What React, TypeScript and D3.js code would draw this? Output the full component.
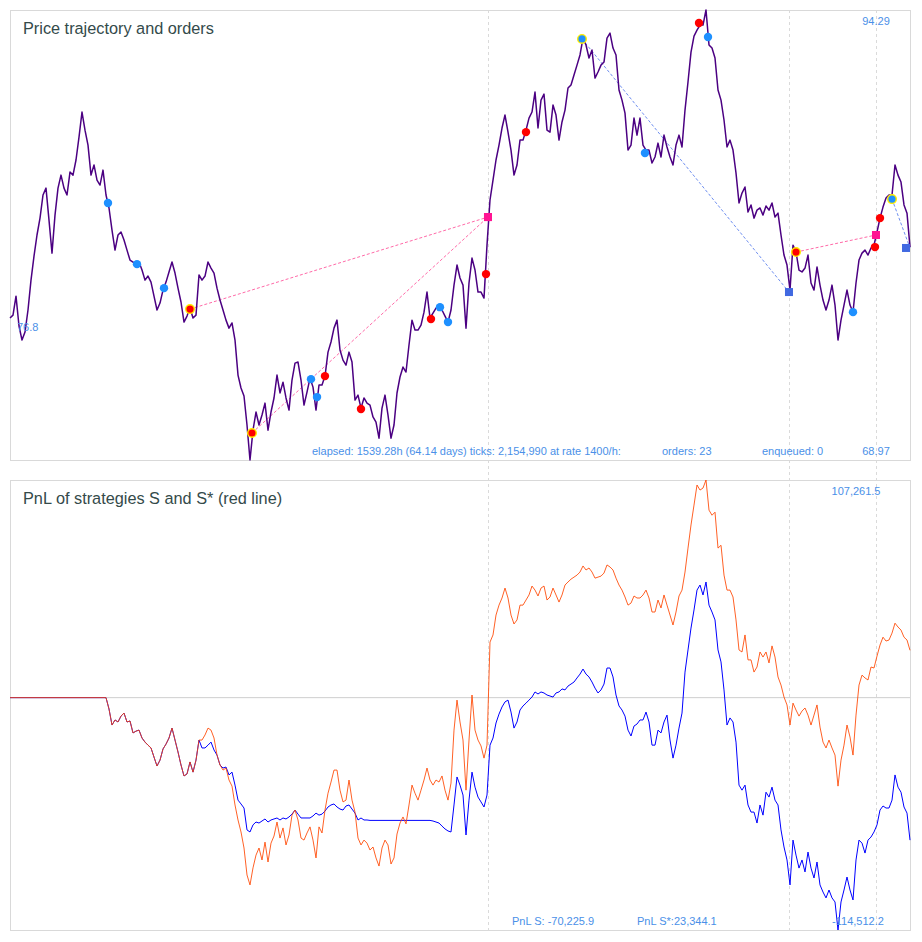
import React from 'react';
import * as d3 from 'd3';

// ---------- data ----------
const HOURS = 1539.28;
const PRICE_MIN = 68.97;
const PRICE_MAX = 94.29;
const PNL_MIN = -114.5122; // thousands
const PNL_MAX = 107.2615;

// price sampled every HOURS/300 hours
const price = [
  76.96, 77.12, 78.19, 76.51, 75.72, 76.17, 77.41, 79.09, 80.44, 81.63,
  82.58, 83.88, 84.27, 82.47, 80.61, 82.75, 84.27, 85.0, 84.27, 83.88,
  85.17, 85.0, 85.85, 87.14, 88.55, 87.53, 86.69, 85.0, 85.57, 84.72,
  84.44, 85.28, 83.88, 83.15, 81.91, 80.78, 81.63, 81.8, 81.35, 80.78,
  80.22, 80.11, 79.94, 80.11, 79.66, 79.09, 79.32, 78.98, 78.19, 77.41,
  77.8, 78.53, 78.98, 79.55, 80.11, 79.49, 78.64, 77.86, 76.73, 77.07,
  77.52, 76.96, 77.12, 79.38, 79.09, 79.32, 80.11, 79.77, 79.49, 78.64,
  77.97, 77.41, 76.84, 76.39, 76.68, 75.72, 73.75, 73.02, 72.57, 70.94,
  68.97, 70.65, 71.67, 70.94, 71.5, 72.17, 70.65, 71.67, 72.46, 73.75,
  72.74, 73.35, 72.46, 71.78, 73.47, 74.42, 74.48, 73.47, 72.06, 72.79,
  73.58, 73.07, 71.78, 73.19, 73.19, 73.69, 75.04, 75.61, 76.39, 76.84,
  75.16, 74.59, 74.31, 75.04, 74.48, 72.34, 72.62, 71.89, 72.46, 72.17,
  72.06, 71.39, 71.1, 70.2, 71.89, 72.62, 71.5, 70.2, 70.94, 72.74,
  73.64, 74.2, 73.92, 75.44, 76.84, 76.28, 76.28, 76.56, 77.29, 78.42,
  76.96, 77.24, 77.52, 77.63, 77.41, 77.07, 76.73, 77.41, 78.81, 79.94,
  79.21, 78.81, 76.39, 78.93, 80.33, 79.66, 78.42, 78.42, 78.08, 81.06,
  83.6, 84.72, 85.85, 86.69, 87.65, 88.38, 87.42, 86.41, 85.0, 85.57,
  86.97, 86.97, 87.53, 88.21, 88.55, 89.67, 87.65, 89.22, 89.56, 87.53,
  87.42, 88.94, 88.38, 86.97, 87.99, 88.66, 89.9, 90.07, 90.63, 91.19,
  91.76, 92.71, 92.32, 91.59, 92.04, 90.46, 90.8, 91.19, 91.36, 92.71,
  92.99, 92.15, 91.76, 89.79, 89.22, 88.49, 86.41, 86.69, 88.21, 87.25,
  88.21, 86.69, 86.41, 86.41, 85.68, 86.02, 86.8, 86.02, 87.25, 86.58,
  86.02, 85.57, 86.69, 87.25, 86.58, 88.66, 90.24, 91.92, 92.82, 93.16,
  93.44, 93.44, 94.29, 92.32, 92.15, 91.59, 89.79, 89.22, 88.1, 86.58,
  86.97, 86.41, 85.12, 83.43, 83.99, 84.33, 82.92, 83.32, 82.58, 83.03,
  83.15, 82.75, 83.26, 83.03, 83.43, 82.64, 82.86, 81.63, 80.5, 79.94,
  78.53, 81.06, 80.67, 79.66, 79.55, 79.77, 80.5, 78.93, 78.53, 79.83,
  78.81, 77.97, 77.41, 77.97, 78.81, 77.69, 75.72, 76.84, 77.69, 78.53,
  77.69, 77.29, 78.93, 80.22, 80.61, 80.78, 80.5, 80.9, 81.06, 81.8,
  82.58, 83.2, 83.71, 83.88, 83.88, 85.57, 85.0, 84.61, 83.32, 82.86,
  80.95,
];

// PnL of S (thousands)
const pnlS = [
  0, 0, 0, 0, 0, 0, 0, 0, 0, 0,
  0, 0, 0, 0, 0, 0, 0, 0, 0, 0,
  0, 0, 0, 0, 0, 0, 0, 0, 0, 0,
  0, 0, 0, -5.6, -13.5, -11.0, -12.0, -9.1, -7.6, -12.0,
  -11.5, -17.4, -16.5, -16.0, -19.9, -21.9, -23.4, -24.8, -29.3, -33.7,
  -30.8, -25.3, -22.9, -19.9, -15.0, -20.9, -26.8, -33.2, -38.6, -37.6,
  -31.7, -36.7, -30.8, -20.9, -24.8, -24.8, -23.4, -21.9, -25.8, -28.3,
  -33.2, -34.7, -34.2, -38.1, -36.7, -43.1, -50.5, -52.4, -54.4, -65.2,
  -66.2, -62.7, -61.3, -61.8, -60.8, -59.8, -61.3, -60.3, -59.8, -59.3,
  -60.3, -59.3, -59.8, -58.8, -57.4, -55.4, -57.4, -59.3, -59.3, -59.3,
  -59.3, -58.3, -56.9, -57.9, -57.4, -55.9, -53.9, -52.9, -52.4, -53.9,
  -54.9, -55.4, -53.4, -52.9, -54.9, -56.9, -60.3, -59.3, -60.3, -60.3,
  -60.5, -60.5, -60.5, -60.5, -60.5, -60.5, -60.5, -60.5, -60.5, -60.5,
  -60.5, -60.5, -60.5, -60.5, -60.5, -60.5, -60.5, -60.5, -60.5, -60.5,
  -60.5, -60.8, -61.3, -61.8, -63.3, -64.7, -65.7, -66.2, -52.9, -39.1,
  -43.1, -48.0, -67.7, -50.5, -36.7, -44.1, -49.0, -51.4, -53.9, -48.0,
  -23.4, -19.9, -12.5, -8.1, -4.6, -2.1, -1.2, -7.1, -15.0, -12.0,
  -6.1, -4.1, -2.7, -1.2, 0.3, 2.8, 1.8, 2.8, 2.3, 1.3,
  0.8, 0.3, 2.3, 2.8, 4.3, 3.8, 5.7, 6.7, 7.7, 9.7,
  11.6, 14.1, 11.6, 10.2, 7.7, 4.7, 2.3, 3.8, 6.7, 14.6,
  14.6, 10.2, 1.3, -4.1, -6.1, -9.1, -16.0, -18.9, -14.0, -13.0,
  -11.0, -11.0, -7.1, -12.0, -23.4, -23.4, -16.0, -17.4, -12.0, -8.6,
  -20.9, -29.8, -23.4, -15.0, -7.6, 12.6, 23.5, 34.3, 43.2, 53.0,
  55.5, 50.6, 57.0, 45.6, 42.2, 38.3, 23.5, 17.6, 3.8, -13.5,
  -10.0, -12.0, -21.9, -43.1, -45.6, -43.1, -52.9, -56.4, -56.4, -61.8,
  -52.9, -57.9, -46.6, -49.0, -44.1, -50.5, -52.9, -65.2, -73.6, -80.0,
  -92.3, -70.2, -77.6, -84.0, -80.0, -85.9, -76.1, -84.0, -88.9, -81.0,
  -92.3, -95.8, -98.7, -94.8, -98.7, -100.7, -114.51, -100.7, -94.8, -88.4,
  -94.8, -99.7, -80.0, -70.2, -71.7, -76.6, -70.2, -68.7, -66.2, -62.7,
  -55.4, -53.4, -54.4, -54.4, -50.5, -38.1, -44.1, -46.6, -53.9, -56.9,
  -70.23,
];

// PnL of S* (thousands)
const pnlSStar = [
  0, 0, 0, 0, 0, 0, 0, 0, 0, 0,
  0, 0, 0, 0, 0, 0, 0, 0, 0, 0,
  0, 0, 0, 0, 0, 0, 0, 0, 0, 0,
  0, 0, 0, -5.6, -13.5, -11.0, -12.0, -9.1, -7.6, -12.0,
  -11.5, -17.4, -16.5, -16.0, -19.9, -21.9, -23.4, -24.8, -29.3, -33.7,
  -30.8, -25.3, -22.9, -19.9, -15.0, -20.9, -26.8, -33.2, -38.6, -37.6,
  -31.7, -36.7, -30.8, -20.9, -20.9, -18.4, -15.0, -16.0, -19.9, -28.3,
  -33.2, -35.7, -34.7, -40.6, -43.6, -52.9, -60.3, -66.2, -74.1, -87.4,
  -92.3, -83.9, -77.6, -74.1, -80.0, -71.2, -81.0, -71.7, -68.2, -61.3,
  -69.2, -64.2, -72.6, -67.7, -57.9, -55.4, -60.3, -69.2, -70.2, -66.7,
  -63.7, -70.2, -79.0, -63.7, -66.7, -55.4, -47.1, -41.6, -35.7, -35.7,
  -45.6, -51.4, -50.5, -40.6, -50.5, -56.4, -69.2, -72.6, -70.2, -71.7,
  -75.1, -73.6, -79.0, -83.0, -74.1, -70.2, -72.6, -82.0, -79.0, -67.2,
  -61.8, -58.8, -62.2, -52.9, -43.1, -47.1, -50.5, -45.6, -40.6, -34.7,
  -40.6, -43.1, -40.6, -41.6, -38.6, -45.6, -50.5, -42.1, -16.0, -1.2,
  -12.0, -20.9, -45.6, -20.9, 1.3, -16.0, -20.9, -23.8, -29.8, -23.4,
  27.4, 30.9, 40.7, 45.6, 49.1, 54.0, 49.1, 40.7, 36.3, 38.3,
  45.6, 45.6, 48.1, 50.6, 55.0, 53.0, 50.1, 54.0, 55.0, 48.1,
  49.6, 54.0, 50.6, 47.1, 50.6, 55.5, 57.0, 58.4, 59.4, 60.4,
  61.9, 64.9, 62.9, 63.9, 61.9, 58.9, 59.4, 59.9, 61.4, 65.4,
  64.4, 62.9, 58.9, 55.5, 53.0, 49.6, 45.6, 46.6, 50.1, 49.1,
  49.1, 50.6, 53.0, 49.1, 42.2, 42.2, 48.1, 44.2, 50.6, 45.6,
  40.7, 35.8, 42.2, 50.1, 53.0, 61.9, 73.7, 85.1, 94.9, 104.8,
  102.3, 103.3, 107.26, 92.4, 89.9, 91.4, 73.7, 75.1, 60.4, 53.0,
  53.0, 49.6, 38.3, 23.5, 22.5, 30.9, 18.6, 18.6, 12.6, 15.1,
  22.5, 20.0, 22.5, 17.1, 25.5, 20.0, 10.2, 6.2, 0.3, -3.6,
  -13.5, -2.7, -6.1, -9.1, -6.6, -5.1, -8.6, -13.5, -8.6, -3.6,
  -14.5, -21.9, -24.8, -20.9, -24.8, -28.3, -43.6, -30.8, -23.4, -13.5,
  -19.4, -28.3, -8.6, 6.2, 11.1, 9.7, 8.7, 15.1, 14.6, 20.5,
  25.9, 29.8, 27.9, 28.4, 31.8, 36.7, 34.8, 33.3, 29.8, 28.4,
  23.34,
];

// orders (hours, price)
const blueOrderTimes = [167.6, 217.2, 263.4, 514.8, 525.1, 735.4, 749.1, 978.3, 1086.0, 1193.8, 1441.8, 1508.5];
const blueOrderPrices = [83.43, 79.99, 78.64, 73.52, 72.51, 77.57, 76.73, 92.66, 86.24, 92.77, 77.29, 83.65];
const redOrderTimes = [307.9, 413.9, 538.7, 600.3, 720.0, 814.1, 882.5, 1178.4, 1344.3, 1479.4, 1488.0];
const redOrderPrices = [77.46, 70.49, 73.69, 71.84, 76.9, 79.43, 87.42, 93.56, 80.67, 80.95, 82.58];

// trades: entry -> exit
const tradeEntryTimes = [307.9, 413.9, 978.3, 1344.3, 1508.5];
const tradeEntryPrices = [77.46, 70.49, 92.66, 80.67, 83.65];
const tradeExitTimes = [817.5, 817.5, 1332.3, 1481.1, 1539.28];
const tradeExitPrices = [82.64, 82.64, 78.42, 81.63, 80.9];
const tradeSides = ['long', 'long', 'short', 'long', 'short'];
const tradeEntryColors = ['red', 'red', 'blue', 'red', 'blue'];

const markerTimes = [817.5, 1332.3, 1481.1];

const titles = ['Price trajectory and orders', 'PnL of strategies S and S* (red line)'];
const infoTexts = ['elapsed: 1539.28h (64.14 days) ticks: 2,154,990 at rate 1400/h:', 'orders: 23', 'enqueued: 0'];
const priceLabels = ['94.29', '68.97', '76.8'];
const pnlLabels = ['107,261.5', '-114,512.2', 'PnL S: -70,225.9', 'PnL S*:23,344.1'];

// ---------- component ----------
const FONT = '"Liberation Sans", Arial, Helvetica, sans-serif';
const LABEL = '#4a90e8';

export default function App() {
  const x = d3.scaleLinear().domain([0, HOURS]).range([10, 910]);
  const yP = d3.scaleLinear().domain([PRICE_MIN, PRICE_MAX]).range([460, 10]);
  const yQ = d3.scaleLinear().domain([PNL_MIN, PNL_MAX]).range([930, 480]);
  const stepP = HOURS / (price.length - 1);
  const stepQ = HOURS / (pnlS.length - 1);

  const priceLine = d3.line<number>().x((_, i) => x(i * stepP)).y((d) => yP(d));
  const pnlLine = d3.line<number>().x((_, i) => x(i * stepQ)).y((d) => yQ(d));

  const blueC = '#1e90ff';
  const redC = '#ff0000';

  return (
    <svg width={922} height={942} style={{ position: 'absolute', left: 0, top: 0, background: '#fff' }}
      fontFamily={FONT}>
      {/* panels */}
      <rect x={10.5} y={10.5} width={900} height={450} fill="#fff" stroke="#d9d9d9" />
      <rect x={10.5} y={480.5} width={900} height={450} fill="#fff" stroke="#d9d9d9" />

      {/* vertical dashed markers */}
      {markerTimes.map((t, i) => (
        <line key={'vm' + i} x1={Math.round(x(t)) + 0.5} x2={Math.round(x(t)) + 0.5} y1={10} y2={931}
          stroke="#dadada" strokeDasharray="3,3" />
      ))}

      {/* zero line */}
      <line x1={10} x2={910} y1={yQ(0)} y2={yQ(0)} stroke="#cfcfcf" />

      {/* titles */}
      <text x={23} y={34} fontSize={16.3} fill="#344a4a">{titles[0]}</text>
      <text x={23} y={504} fontSize={16.3} fill="#344a4a">{titles[1]}</text>

      {/* trade connectors */}
      {tradeEntryTimes.map((t, i) => (
        <line key={'tl' + i} x1={x(t)} y1={yP(tradeEntryPrices[i])} x2={x(tradeExitTimes[i])} y2={yP(tradeExitPrices[i])}
          stroke={tradeSides[i] === 'long' ? '#ff6aa8' : '#6f8ff0'} strokeWidth={1} strokeDasharray="3,2" />
      ))}

      {/* price line */}
      <path d={priceLine(price) || ''} fill="none" stroke="#4b0082" strokeWidth={1.5} strokeLinejoin="round" />

      {/* orders */}
      {blueOrderTimes.map((t, i) => (
        <circle key={'bo' + i} cx={x(t)} cy={yP(blueOrderPrices[i])} r={4.2} fill={blueC} />
      ))}
      {redOrderTimes.map((t, i) => (
        <circle key={'ro' + i} cx={x(t)} cy={yP(redOrderPrices[i])} r={4.2} fill={redC} />
      ))}
      {tradeEntryTimes.map((t, i) => (
        <circle key={'te' + i} cx={x(t)} cy={yP(tradeEntryPrices[i])} r={4.3}
          fill={tradeEntryColors[i] === 'red' ? redC : blueC} stroke="#ffee00" strokeWidth={1.4} />
      ))}
      {tradeExitTimes.map((t, i) => (
        <rect key={'tx' + i} x={Math.min(x(t), 906) - 4} y={yP(tradeExitPrices[i]) - 4} width={8} height={8}
          fill={tradeSides[i] === 'long' ? '#ff1493' : '#4169e1'} />
      ))}

      {/* price labels */}
      <text x={876} y={25} fontSize={11} fill={LABEL} textAnchor="middle">{priceLabels[0]}</text>
      <text x={876} y={455} fontSize={11} fill={LABEL} textAnchor="middle">{priceLabels[1]}</text>
      <text x={17} y={331} fontSize={11} fill={LABEL}>{priceLabels[2]}</text>
      <text x={312} y={455} fontSize={11} fill={LABEL}>{infoTexts[0]}</text>
      <text x={662} y={455} fontSize={11} fill={LABEL}>{infoTexts[1]}</text>
      <text x={762} y={455} fontSize={11} fill={LABEL}>{infoTexts[2]}</text>

      {/* pnl lines */}
      <path d={pnlLine(pnlS) || ''} fill="none" stroke="#0000ff" strokeWidth={1} strokeLinejoin="round" />
      <path d={pnlLine(pnlSStar) || ''} fill="none" stroke="#ff4500" strokeWidth={1} strokeOpacity={0.85} strokeLinejoin="round" />

      {/* pnl labels */}
      <text x={856} y={495} fontSize={11} fill={LABEL} textAnchor="middle">{pnlLabels[0]}</text>
      <text x={858} y={925} fontSize={11} fill={LABEL} textAnchor="middle">{pnlLabels[1]}</text>
      <text x={512} y={925} fontSize={11} fill={LABEL}>{pnlLabels[2]}</text>
      <text x={637} y={925} fontSize={11} fill={LABEL}>{pnlLabels[3]}</text>
    </svg>
  );
}
